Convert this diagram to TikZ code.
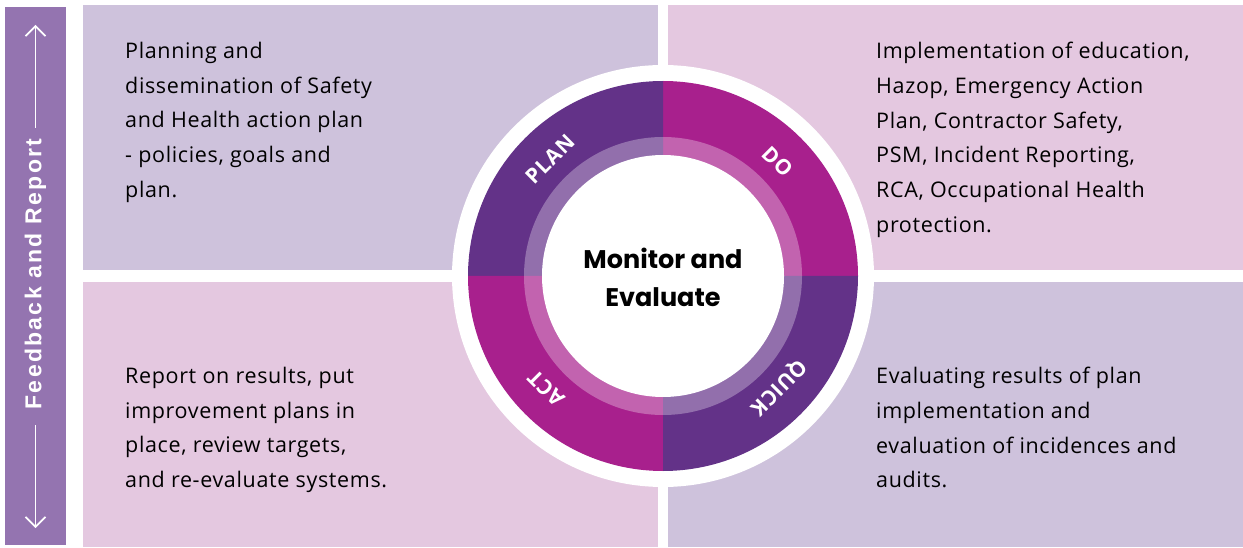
\documentclass[tikz,border=0pt]{standalone}
\usepackage{fontspec}
\setmainfont[LetterSpace=3]{Open Sans}
\newfontfamily\ringfont[LetterSpace=4]{Open Sans}
\newfontfamily\titlefont{Poppins}
\newfontfamily\barfont[LetterSpace=10]{Liberation Sans}
\usetikzlibrary{arrows.meta,calc}
\definecolor{lav}{HTML}{CEC2DC}
\definecolor{pnk}{HTML}{E4C8E0}
\definecolor{barcol}{HTML}{9474B0}
\definecolor{dpur}{HTML}{633288}
\definecolor{dmag}{HTML}{A8208D}
\tikzset{
  quad/.style={inner sep=0, outer sep=0, anchor=south west, minimum width=575pt, minimum height=265pt},
  body/.style={inner sep=0, anchor=north west, align=left, text=black, font=\fontsize{21.5}{34.7}\selectfont},
  ringlbl/.style={text=white, inner sep=0, font=\ringfont\fontsize{21}{22}\selectfont\bfseries},
  flow/.style={draw=white, line width=1.6pt, -{Straight Barb[length=10pt,width=20pt,line width=1.6pt]}}
}
\begin{document}
\begin{tikzpicture}[x=1pt,y=1pt]
\useasboundingbox (0,0) rectangle (1243,547);
\fill[white] (0,0) rectangle (1243,547);
% side bar
\node[fill=barcol, inner sep=0, anchor=south west, minimum width=61pt, minimum height=538pt] (bar) at (5,2) {};
\node[rotate=90, text=white, inner sep=0, font=\barfont\fontsize{23}{24}\selectfont\bfseries] (fb) at (35.5,273) {Feedback and Report};
\coordinate (a1s) at (35.5,419);
\coordinate (a1e) at (35.5,522);
\coordinate (a2s) at (35.5,122);
\coordinate (a2e) at (35.5,19);
\draw[flow] (a1s) -- (a1e);
\draw[flow] (a2s) -- (a2e);
% quadrants
\node[quad, fill=lav] (tl) at (83,277) {};
\node[quad, fill=pnk] (tr) at (668,277) {};
\node[quad, fill=pnk] (bl) at (83,0) {};
\node[quad, fill=lav] (br) at (668,0) {};
% ring
\coordinate (c) at (663,271);
\fill[white] (c) circle[radius=211];
\fill[dmag] (c) -- ++(0:195) arc[start angle=0, end angle=90, radius=195] -- cycle;
\fill[dpur] (c) -- ++(90:195) arc[start angle=90, end angle=180, radius=195] -- cycle;
\fill[dmag] (c) -- ++(180:195) arc[start angle=180, end angle=270, radius=195] -- cycle;
\fill[dpur] (c) -- ++(270:195) arc[start angle=270, end angle=360, radius=195] -- cycle;
\fill[dmag!70!white] (c) -- ++(0:139) arc[start angle=0, end angle=90, radius=139] -- cycle;
\fill[dpur!70!white] (c) -- ++(90:139) arc[start angle=90, end angle=180, radius=139] -- cycle;
\fill[dmag!70!white] (c) -- ++(180:139) arc[start angle=180, end angle=270, radius=139] -- cycle;
\fill[dpur!70!white] (c) -- ++(270:139) arc[start angle=270, end angle=360, radius=139] -- cycle;
\fill[white] (c) circle[radius=121];
\node[ringlbl, rotate=45] (plan) at ($(c)+(134:162)$) {PLAN};
\node[ringlbl, rotate=-45] (do) at ($(c)+(45:162)$) {DO};
\node[ringlbl, rotate=-135] (quick) at ($(c)+(-44:160)$) {QUICK};
\node[ringlbl, rotate=135] (act) at ($(c)+(224:162)$) {ACT};
\node[align=center, inner sep=0, font=\titlefont\fontsize{25.5}{38}\selectfont\bfseries] (title) at (663,270) {Monitor and\\Evaluate};
% texts
\node[body] (ttl) at (125,505) {Planning and\\dissemination of Safety\\and Health action plan\\- policies, goals and\\plan.};
\node[body] (ttr) at (876,505) {Implementation of education,\\Hazop, Emergency Action\\Plan, Contractor Safety,\\PSM, Incident Reporting,\\RCA, Occupational Health\\protection.};
\node[body] (tbl) at (125,180) {Report on results, put\\improvement plans in\\place, review targets,\\and re-evaluate systems.};
\node[body] (tbr) at (876,180) {Evaluating results of plan\\implementation and\\evaluation of incidences and\\audits.};
\end{tikzpicture}
\end{document}
